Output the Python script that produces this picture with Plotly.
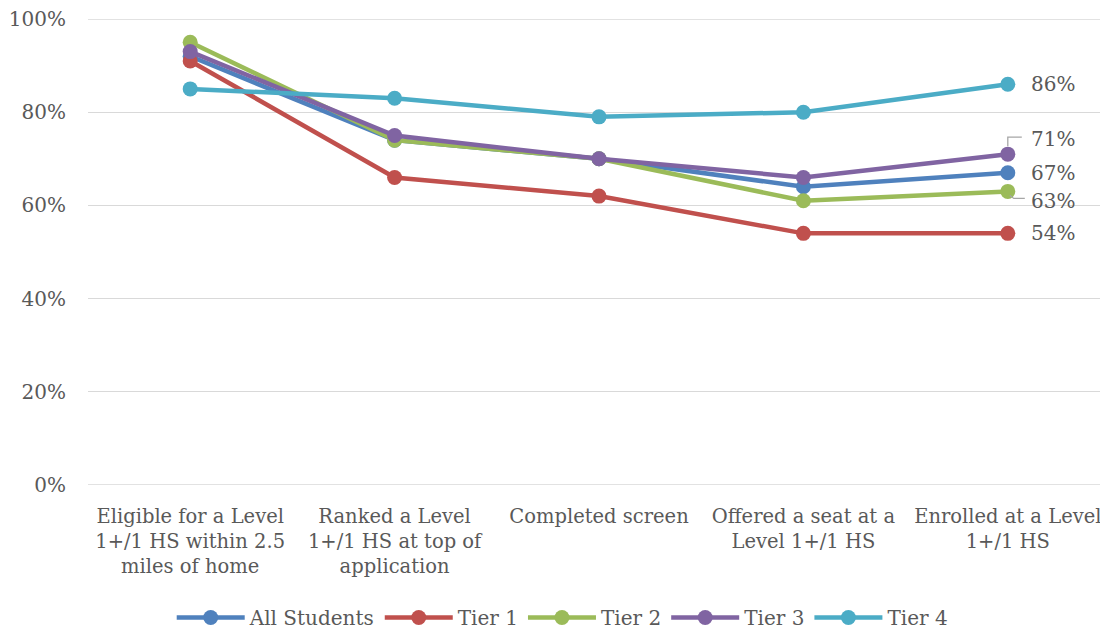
import plotly.graph_objects as go

categories = [
    "Eligible for a Level<br>1+/1 HS within 2.5<br>miles of home",
    "Ranked a Level<br>1+/1 HS at top of<br>application",
    "Completed screen",
    "Offered a seat at a<br>Level 1+/1 HS",
    "Enrolled at a Level<br>1+/1 HS",
]
series_names = ["All Students", "Tier 1", "Tier 2", "Tier 3", "Tier 4"]
all_students = [92, 74, 70, 64, 67]
tier1 = [91, 66, 62, 54, 54]
tier2 = [95, 74, 70, 61, 63]
tier3 = [93, 75, 70, 66, 71]
tier4 = [85, 83, 79, 80, 86]
colors = ["#4F81BD", "#C0504D", "#9BBB59", "#8064A2", "#4BACC6"]
y_ticks = [0, 20, 40, 60, 80, 100]

FONT = "DejaVu Serif"
TXT = "#595959"
FS = 20

fig = go.Figure()
x_idx = list(range(len(categories)))
all_series = [all_students, tier1, tier2, tier3, tier4]
for name, vals, col in zip(series_names, all_series, colors):
    fig.add_trace(go.Scatter(
        x=x_idx, y=vals, name=name, mode="lines+markers",
        line=dict(color=col, width=4.5),
        marker=dict(color=col, size=15),
    ))

# end labels (last point)
label_shift = {"All Students": 0, "Tier 1": 0, "Tier 2": -10, "Tier 3": 15, "Tier 4": 0}
for name, vals in zip(series_names, all_series):
    fig.add_annotation(
        x=x_idx[-1], y=vals[-1], text=f"{vals[-1]}%", showarrow=False,
        xanchor="left", xshift=21, yshift=label_shift[name],
        font=dict(family=FONT, size=FS, color=TXT),
    )

# leader lines (elbow) for Tier 3 and Tier 2 labels
fig.add_shape(type="path", xref="x", yref="y", xsizemode="pixel", ysizemode="pixel",
              xanchor=x_idx[-1], yanchor=tier3[-1],
              path="M 0,8 L 0,17 L 14,17", line=dict(color="#A6A6A6", width=1.3))
fig.add_shape(type="path", xref="x", yref="y", xsizemode="pixel", ysizemode="pixel",
              xanchor=x_idx[-1], yanchor=tier2[-1],
              path="M 2,-4 L 6,-7 L 17,-7", line=dict(color="#A6A6A6", width=1.3))

fig.update_layout(
    width=1102, height=629,
    margin=dict(l=80, r=0, t=11, b=151),
    paper_bgcolor="white", plot_bgcolor="white",
    font=dict(family=FONT, size=FS, color=TXT),
    showlegend=True,
    legend=dict(orientation="h", x=0.464, xanchor="center", y=-0.284, yanchor="middle",
                font=dict(family=FONT, size=FS, color=TXT), itemwidth=68,
                traceorder="normal"),
    xaxis=dict(
        tickmode="array", tickvals=x_idx, ticktext=categories,
        range=[-0.5, len(categories) - 0.5],
        showgrid=False, zeroline=False, showline=False, ticks="",
        ticklabelstandoff=17, ticklabeloverflow="allow", automargin=False,
        tickfont=dict(family=FONT, size=19.5, color=TXT),
    ),
    yaxis=dict(
        range=[0, 100], tickvals=y_ticks, ticktext=[f"{v}%" for v in y_ticks],
        showgrid=True, gridcolor="#D9D9D9", gridwidth=1.3,
        zeroline=False, showline=False, ticks="",
        ticklabelstandoff=21, ticklabeloverflow="allow", automargin=False,
        tickfont=dict(family=FONT, size=FS, color=TXT),
    ),
)
fig.add_hline(y=0, line=dict(color="#D9D9D9", width=1.3), layer="below")
fig.add_hline(y=100, line=dict(color="#D9D9D9", width=1.3), layer="below")

fig.write_html("out.html")
